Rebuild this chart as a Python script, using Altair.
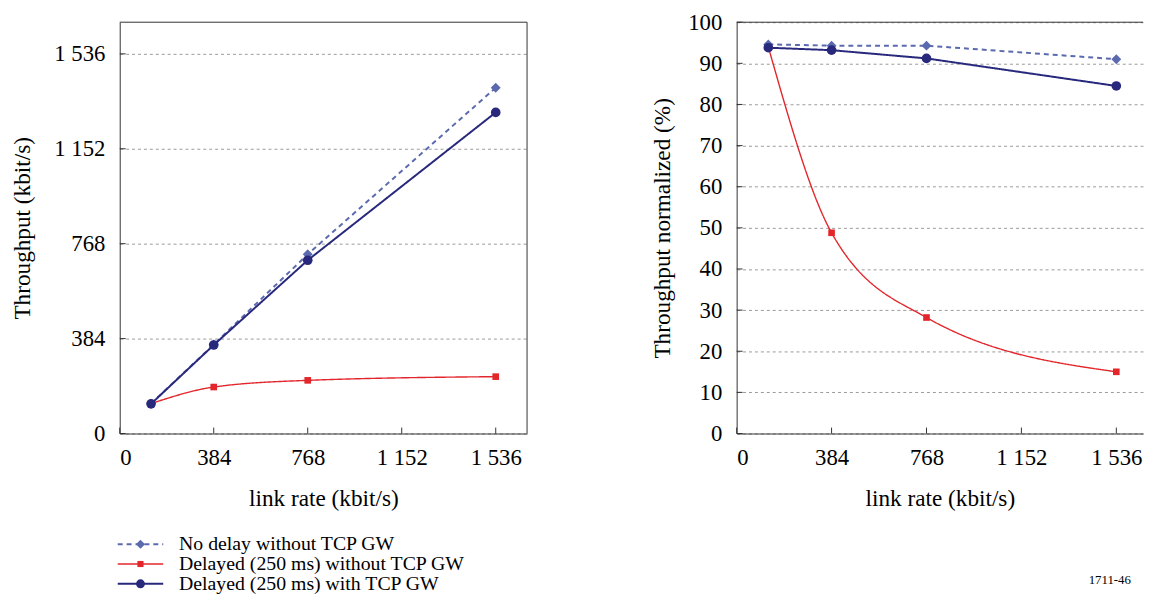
import altair as alt
import pandas as pd

# ---------------- data ----------------
link_rate = [128, 384, 768, 1536]
series_names = [
    "No delay without TCP GW",
    "Delayed (250 ms) without TCP GW",
    "Delayed (250 ms) with TCP GW",
]
# left panel: throughput (kbit/s)
thr_no_delay = [121, 360, 725, 1399]
thr_delayed = [121, 188, 215, 230]
thr_tcpgw = [120, 358, 701, 1299]
# right panel: throughput normalized (%)
norm_no_delay = [94.6, 94.3, 94.3, 91.0]
norm_delayed = [94.0, 48.8, 28.2, 15.0]
norm_tcpgw = [93.8, 93.2, 91.2, 84.5]

x_ticks = [0, 384, 768, 1152, 1536]
left_y_ticks = [0, 384, 768, 1152, 1536]
right_y_ticks = [0, 10, 20, 30, 40, 50, 60, 70, 80, 90, 100]
figure_id = ["1711-46"]

# ---------------- styling ----------------
FONT = "Liberation Serif, DejaVu Serif, serif"
C_NODELAY = "#5b6aae"
C_DELAYED = "#e3262b"
C_TCPGW = "#28287c"
styles = {
    series_names[0]: dict(color=C_NODELAY, dash=[5, 4], width=2, shape="diamond", size=100, interp="linear"),
    series_names[1]: dict(color=C_DELAYED, dash=[1, 0], width=1.4, shape="square", size=45, interp="monotone"),
    series_names[2]: dict(color=C_TCPGW, dash=[1, 0], width=2, shape="circle", size=95, interp="linear"),
}

FRAME = "#333333"
LEFT_W, LEFT_H = 412, 416
RIGHT_W, RIGHT_H = 411, 416

space_fmt = "replace(format(datum.value, ','), ',', ' ')"


def panel(values, y_domain, y_ticks, y_title, y_label_expr, width, height, x_max, right_frame, y_tpad):
    df = pd.DataFrame({
        "x": link_rate * 3,
        "y": values[0] + values[1] + values[2],
        "series": [series_names[0]] * 4 + [series_names[1]] * 4 + [series_names[2]] * 4,
    })
    X = alt.X("x:Q", scale=alt.Scale(domain=[0, x_max], nice=False, zero=False),
              axis=alt.Axis(values=x_ticks, labelExpr=space_fmt, title="link rate (kbit/s)",
                            grid=False, ticks=False, labelPadding=13, titlePadding=18))
    Y = alt.Y("y:Q", scale=alt.Scale(domain=y_domain, nice=False),
              axis=alt.Axis(values=y_ticks, labelExpr=y_label_expr, title=y_title,
                            grid=True, ticks=False, labelPadding=15, titlePadding=y_tpad))
    layers = []
    # inner ticks
    xt = pd.DataFrame({"x": x_ticks})
    layers.append(alt.Chart(xt).mark_rule(color=FRAME, strokeWidth=1).encode(
        x=X, y=alt.value(height - 6), y2=alt.value(height)))
    yt = pd.DataFrame({"y": y_ticks})
    layers.append(alt.Chart(yt).mark_rule(color=FRAME, strokeWidth=1).encode(
        y=Y, x=alt.value(0), x2=alt.value(6)))
    # frame lines (top, optionally right)
    one = pd.DataFrame({"k": [0]})
    layers.append(alt.Chart(one).mark_rule(color=FRAME, strokeWidth=1).encode(
        x=alt.value(0), x2=alt.value(width), y=alt.value(0)))
    if right_frame:
        layers.append(alt.Chart(one).mark_rule(color=FRAME, strokeWidth=1).encode(
            x=alt.value(width), y=alt.value(0), y2=alt.value(height)))
    # series
    for name in [series_names[1], series_names[0], series_names[2]]:
        st = styles[name]
        base = alt.Chart(df).transform_filter(alt.datum.series == name)
        layers.append(base.mark_line(color=st["color"], strokeWidth=st["width"],
                                     strokeDash=st["dash"], interpolate=st["interp"]).encode(x=X, y=Y))
        layers.append(base.mark_point(shape=st["shape"], size=st["size"], filled=True,
                                      color=st["color"], opacity=1).encode(x=X, y=Y))
    return layers


left = alt.layer(*panel([thr_no_delay, thr_delayed, thr_tcpgw], [0, 1664], left_y_ticks,
                        "Throughput (kbit/s)", space_fmt, LEFT_W, LEFT_H, 1664, True, 19)
                 ).properties(width=LEFT_W, height=LEFT_H)

right_layers = panel([norm_no_delay, norm_delayed, norm_tcpgw], [0, 100], right_y_ticks,
                     "Throughput normalized (%)", "datum.value", RIGHT_W, RIGHT_H, 1644, False, 13)
right_layers.append(alt.Chart(pd.DataFrame({"id": figure_id})).mark_text(
    align="left", baseline="top", font=FONT, fontSize=13, color="black").encode(
    x=alt.value(356), y=alt.value(558), text="id:N"))
right = alt.layer(*right_layers).properties(width=RIGHT_W, height=RIGHT_H)

# ---------------- legend ----------------
legend_df = pd.DataFrame({"name": series_names})
LY = alt.Y("name:N", scale=alt.Scale(domain=series_names, type="point", padding=0), axis=None)
leg_layers = []
for name in series_names:
    st = styles[name]
    b = alt.Chart(legend_df).transform_filter(alt.datum.name == name)
    leg_layers.append(b.mark_rule(color=st["color"], strokeWidth=st["width"], strokeDash=st["dash"]).encode(
        y=LY, x=alt.value(-2), x2=alt.value(44)))
    leg_layers.append(b.mark_point(shape=st["shape"], size=st["size"] * 0.85, filled=True,
                                   color=st["color"], opacity=1).encode(y=LY, x=alt.value(21)))
leg_layers.append(alt.Chart(legend_df).mark_text(align="left", baseline="middle", font=FONT,
                                                 fontSize=20, color="black").encode(
    y=LY, x=alt.value(60), text="name:N"))
legend = alt.layer(*leg_layers).properties(width=LEFT_W, height=40)

chart = alt.hconcat(
    alt.vconcat(left, legend, spacing=24),
    right,
    spacing=124,
).properties(padding={"left": 3, "top": 0, "right": 0, "bottom": 0}).configure_view(
    stroke=None
).configure_axis(
    labelFont=FONT, titleFont=FONT, labelFontSize=23, titleFontSize=23.5,
    titleFontWeight="normal", labelColor="black", titleColor="black",
    domainColor=FRAME, domainWidth=1, gridColor="#9a9a9a", gridDash=[3, 3], gridWidth=1,
)

chart.save("out.html", embed_options={"renderer": "svg", "actions": False})
